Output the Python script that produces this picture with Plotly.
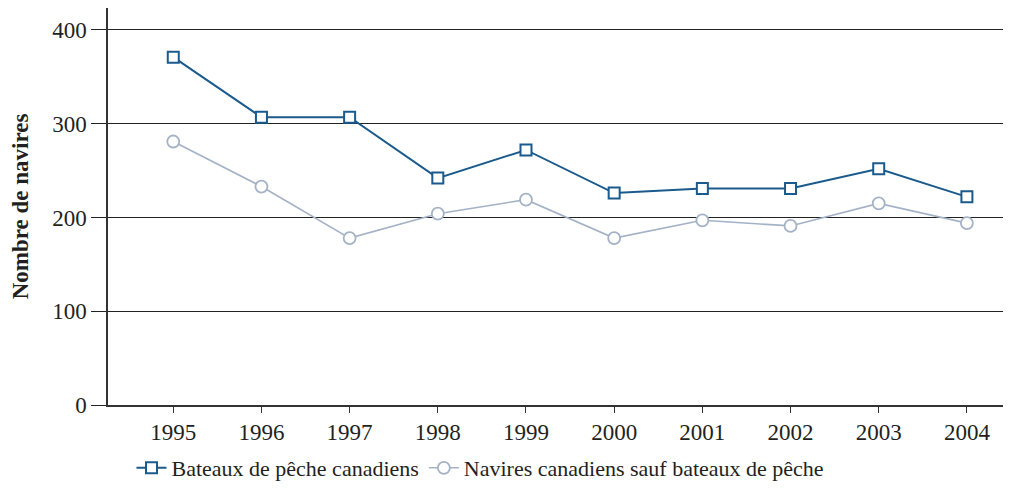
import plotly.graph_objects as go

years = [1995, 1996, 1997, 1998, 1999, 2000, 2001, 2002, 2003, 2004]
bateaux_peche = [371, 307, 307, 242, 272, 226, 231, 231, 252, 222]
navires_autres = [281, 233, 178, 204, 219, 178, 197, 191, 215, 194]
y_ticks = [0, 100, 200, 300, 400]

BLUE = "#1a5a8c"
GREY = "#a4b2c6"
FONT = "Liberation Serif"

fig = go.Figure()
fig.add_trace(go.Scatter(
    x=years, y=bateaux_peche, mode="lines+markers",
    name="Bateaux de pêche canadiens",
    line=dict(color=BLUE, width=2),
    marker=dict(symbol="square", size=11, color="white", line=dict(color=BLUE, width=2)),
))
fig.add_trace(go.Scatter(
    x=years, y=navires_autres, mode="lines+markers",
    name="Navires canadiens sauf bateaux de pêche",
    line=dict(color=GREY, width=1.6),
    marker=dict(symbol="circle", size=12, color="white", line=dict(color=GREY, width=1.8)),
))

fig.update_layout(
    width=1003, height=481,
    margin=dict(l=100, r=0, t=0, b=83),
    paper_bgcolor="white", plot_bgcolor="white",
    font=dict(family=FONT, size=23, color="#231f20"),
    showlegend=True,
    legend=dict(orientation="h", x=0.026, y=-0.16, xanchor="left", yanchor="middle",
                font=dict(size=22), itemwidth=30, tracegroupgap=0),
    xaxis=dict(
        range=[1994.26, 2004.5], tickmode="array", tickvals=years,
        ticktext=[str(y) for y in years],
        showgrid=False, zeroline=False,
        showline=True, linecolor="#333333", linewidth=1.5,
        ticks="outside", ticklen=6, tickcolor="#333333", tickwidth=1.2,
    ),
    yaxis=dict(
        range=[0, 423.4], tickmode="array", tickvals=y_ticks,
        showgrid=True, gridcolor="#222222", gridwidth=1,
        zeroline=False,
        showline=True, linecolor="#333333", linewidth=1.5,
        ticks="outside", ticklen=15, tickcolor="#222222", tickwidth=1,
        title=dict(text="<b>Nombre de navires</b>", font=dict(size=23), standoff=18),
    ),
)

fig.write_html("out.html")
